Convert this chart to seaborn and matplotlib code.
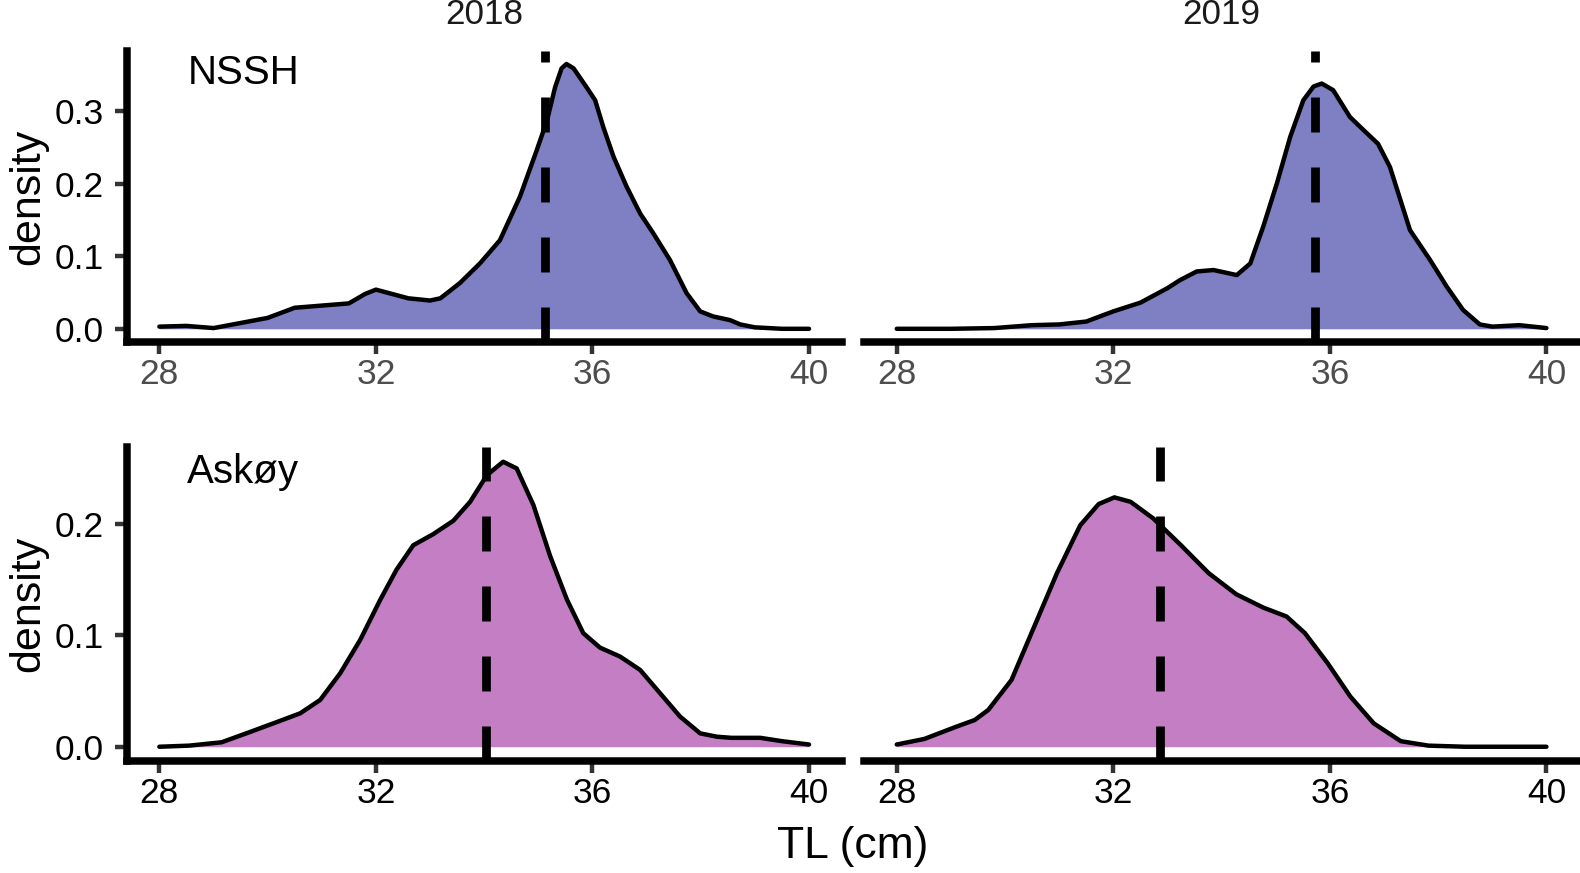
import matplotlib
matplotlib.use('Agg')
import matplotlib.pyplot as plt
import seaborn as sns
import pandas as pd

# density curves (TL in cm)
nssh_2018_tl = [28.0, 28.5, 29.0, 29.5, 30.0, 30.5, 31.0, 31.5, 31.8, 32.0, 32.3, 32.6, 33.0,
                33.19, 33.55, 33.92, 34.29, 34.66, 34.97, 35.16, 35.31, 35.43, 35.52, 35.65,
                35.89, 36.05, 36.2, 36.39, 36.63, 36.88, 37.12, 37.43, 37.74, 37.99, 38.23,
                38.54, 38.73, 39.0, 39.5, 40.0]
nssh_2018_dens = [0.003, 0.004, 0.001, 0.008, 0.015, 0.029, 0.032, 0.035, 0.048, 0.054, 0.048,
                  0.042, 0.039, 0.042, 0.063, 0.090, 0.122, 0.182, 0.246, 0.287, 0.333, 0.359,
                  0.365, 0.359, 0.333, 0.315, 0.278, 0.237, 0.196, 0.159, 0.132, 0.095, 0.049,
                  0.024, 0.017, 0.012, 0.006, 0.002, 0.0, 0.0]

nssh_2019_tl = [28.0, 29.0, 29.8, 30.5, 31.0, 31.5, 32.0, 32.5, 33.0, 33.23, 33.54, 33.85, 34.1,
                34.28, 34.53, 34.77, 35.02, 35.27, 35.51, 35.70, 35.85, 36.06, 36.37, 36.62,
                36.89, 37.11, 37.48, 37.85, 38.16, 38.46, 38.77, 39.0, 39.5, 40.0]
nssh_2019_dens = [0.0, 0.0, 0.001, 0.005, 0.006, 0.010, 0.024, 0.036, 0.056, 0.067, 0.079,
                  0.081, 0.077, 0.074, 0.090, 0.141, 0.200, 0.265, 0.315, 0.334, 0.338, 0.329,
                  0.292, 0.274, 0.255, 0.223, 0.136, 0.095, 0.058, 0.026, 0.006, 0.003, 0.005,
                  0.001]

askoy_2018_tl = [28.0, 28.55, 29.15, 29.66, 30.16, 30.6, 30.97, 31.34, 31.71, 32.08, 32.38,
                 32.69, 33.06, 33.43, 33.74, 34.05, 34.35, 34.6, 34.91, 35.22, 35.53, 35.83,
                 36.14, 36.51, 36.88, 37.25, 37.62, 37.99, 38.3, 38.57, 39.1, 39.5, 40.0]
askoy_2018_dens = [0.0, 0.001, 0.004, 0.013, 0.022, 0.030, 0.042, 0.066, 0.096, 0.132, 0.159,
                   0.181, 0.191, 0.203, 0.220, 0.244, 0.256, 0.250, 0.217, 0.171, 0.132, 0.102,
                   0.089, 0.081, 0.069, 0.048, 0.027, 0.012, 0.009, 0.008, 0.008, 0.005, 0.002]

askoy_2019_tl = [28.0, 28.51, 29.1, 29.44, 29.69, 30.12, 30.54, 30.96, 31.39, 31.73, 32.02,
                 32.32, 32.74, 33.25, 33.76, 34.27, 34.77, 35.2, 35.54, 35.96, 36.38, 36.81,
                 37.31, 37.82, 38.5, 39.0, 40.0]
askoy_2019_dens = [0.002, 0.007, 0.018, 0.024, 0.033, 0.060, 0.108, 0.156, 0.199, 0.218, 0.224,
                   0.220, 0.205, 0.181, 0.156, 0.137, 0.125, 0.117, 0.102, 0.075, 0.045, 0.021,
                   0.005, 0.001, 0.0, 0.0, 0.0]

# mean TL per panel (dashed lines)
mean_tl = {('NSSH', 2018): 35.13, ('NSSH', 2019): 35.73,
           ('Askøy', 2018): 34.03, ('Askøy', 2019): 32.87}

years = [2018, 2019]
sites = ['NSSH', 'Askøy']
fills = {'NSSH': '#7f7fc4', 'Askøy': '#c47fc4'}
curves = {('NSSH', 2018): (nssh_2018_tl, nssh_2018_dens),
          ('NSSH', 2019): (nssh_2019_tl, nssh_2019_dens),
          ('Askøy', 2018): (askoy_2018_tl, askoy_2018_dens),
          ('Askøy', 2019): (askoy_2019_tl, askoy_2019_dens)}

sns.set_theme(style='white')
plt.rcParams['font.family'] = ['Liberation Sans', 'DejaVu Sans']

fig = plt.figure(figsize=(15.8, 8.73), dpi=100)

col_left = [0.0803, 0.5470]
col_width = 0.4523
row_pos = {'NSSH': (0.6082, 0.3337), 'Askøy': (0.1283, 0.3591)}
yticks = {'NSSH': [0.0, 0.1, 0.2, 0.3], 'Askøy': [0.0, 0.1, 0.2]}

for site in sites:
    ymax = max(max(curves[(site, y)][1]) for y in years)
    for j, year in enumerate(years):
        bottom, height = row_pos[site]
        ax = fig.add_axes([col_left[j], bottom, col_width, height])
        tl, dens = curves[(site, year)]
        df = pd.DataFrame({'TL': tl, 'density': dens})

        ax.fill_between(df['TL'], 0, df['density'], color=fills[site], linewidth=0, zorder=1)
        sns.lineplot(data=df, x='TL', y='density', estimator=None, sort=False,
                     color='black', linewidth=3.2, ax=ax, zorder=2,
                     solid_joinstyle='round', solid_capstyle='round')
        ax.axvline(mean_tl[(site, year)], color='black', linewidth=6.3,
                   linestyle=(0, (4, 4)), zorder=3)

        ax.set_xlim(27.4, 40.6)
        ax.set_ylim(-0.05 * ymax, 1.05 * ymax)
        ax.set_xticks([28, 32, 36, 40])
        ax.set_xlabel('')
        ax.set_ylabel('')

        for side in ['top', 'right']:
            ax.spines[side].set_visible(False)
        ax.spines['bottom'].set_linewidth(5.4)
        ax.spines['bottom'].set_color('black')
        ax.spines['bottom'].set_capstyle('projecting')

        xlab_color = '#4d4d4d' if site == 'NSSH' else 'black'
        ax.tick_params(axis='x', bottom=True, direction='out', length=8.3, width=3.2,
                       color='#333333', labelsize=25.5, labelcolor=xlab_color, pad=3)

        if j == 0:
            ax.spines['left'].set_linewidth(5.4)
            ax.spines['left'].set_color('black')
            ax.spines['left'].set_capstyle('projecting')
            ax.set_yticks(yticks[site])
            ax.set_yticklabels([f'{v:.1f}' for v in yticks[site]])
            ax.tick_params(axis='y', left=True, direction='out', length=8.3, width=3.2,
                           color='#333333', labelsize=25.5, labelcolor='black', pad=8)
            label_y = 0.338 if site == 'NSSH' else 0.237
            ax.text(29.55, label_y, site, ha='center', va='baseline', fontsize=29,
                    color='black')
            fig.text(0.0181, bottom + height / 2, 'density', rotation=90, ha='center',
                     va='center', fontsize=31, color='black')
        else:
            ax.spines['left'].set_visible(False)
            ax.set_yticks([])

        if site == 'NSSH':
            fig.text(col_left[j] + col_width / 2, 0.983, str(year), ha='center',
                     va='center', fontsize=25.3, color='#1a1a1a')
        ax.grid(False)
        ax.set_facecolor('white')

fig.text(0.5398, 0.0298, 'TL (cm)', ha='center', va='center', fontsize=32, color='black')

fig.savefig('out.png', dpi=100)
plt.close(fig)
